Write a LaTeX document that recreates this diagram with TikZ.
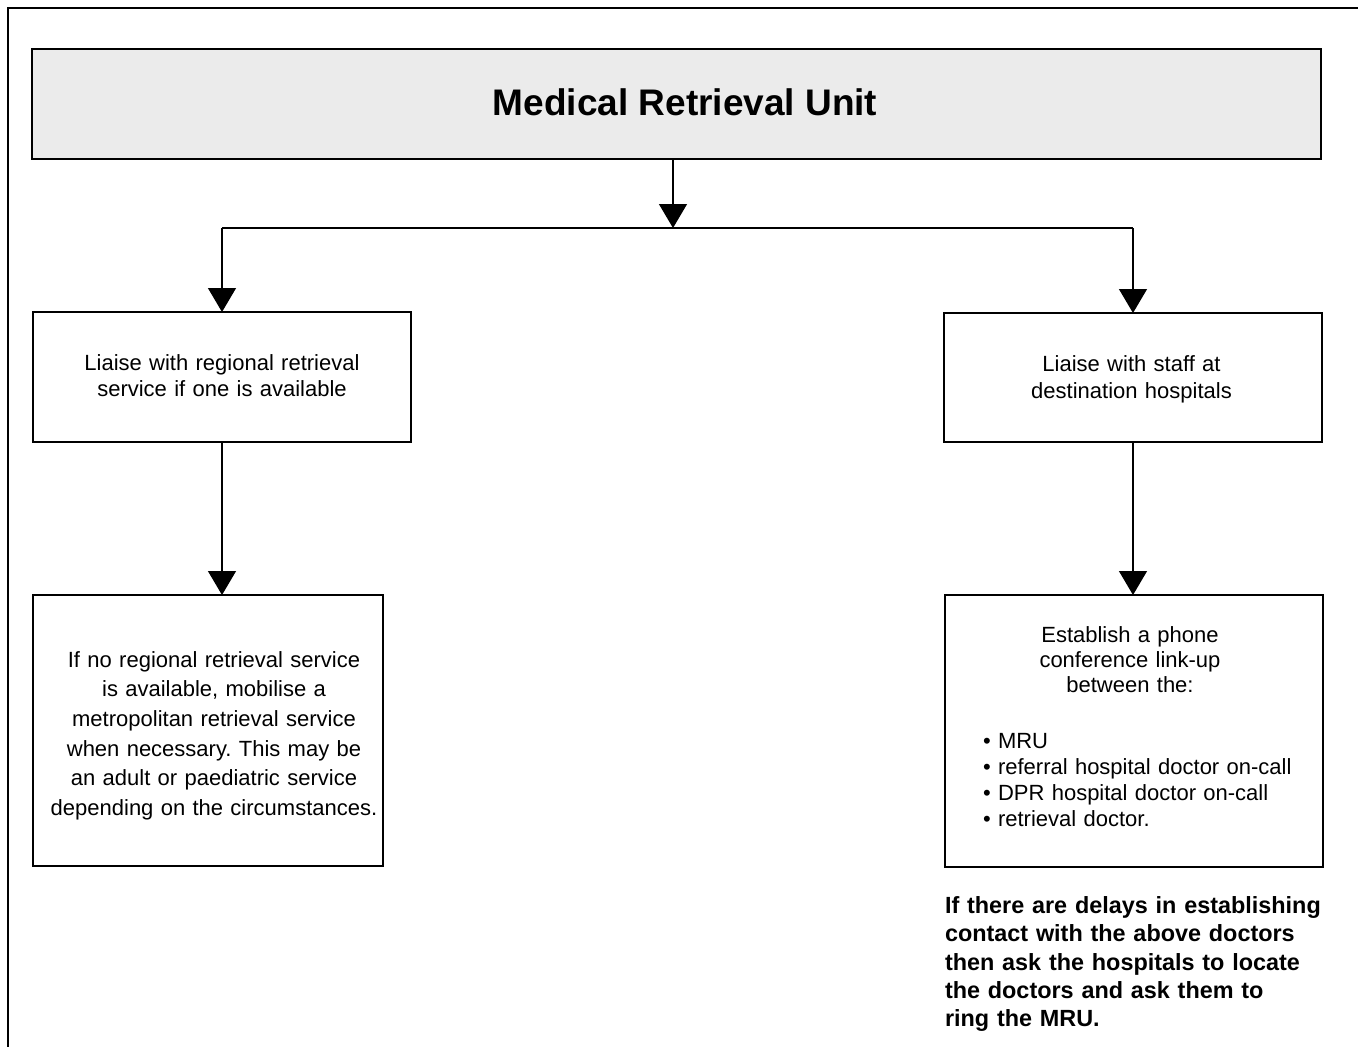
\documentclass[tikz,border=0pt]{standalone}
\usepackage{fontspec}
\setmainfont{Liberation Sans}
\usetikzlibrary{arrows.meta}
\definecolor{titlegray}{HTML}{EBEBEB}
\newcommand{\fsz}[2]{\fontsize{#1pt}{#2pt}\selectfont}
\frenchspacing
\begin{document}
\begin{tikzpicture}[x=1pt,y=-1pt,
  box/.style={draw=black, line width=1.3pt, inner sep=0pt, outer sep=0pt, anchor=north west},
  conn/.style={draw=black, line width=1.3pt},
  arr/.style={conn, -{Triangle[length=24pt,width=28pt]}},
  txt/.style={inner sep=0pt, outer sep=0pt, anchor=base, align=center},
  ltxt/.style={inner sep=0pt, outer sep=0pt, anchor=base west, align=left},
]
\useasboundingbox (0,0) rectangle (1358,1047);
\draw[line width=1.3pt] (8,1047) -- (8,8) -- (1358,8);

% boxes
\node[box, fill=titlegray, minimum width=1289pt, minimum height=110pt] (mru) at (32,49) {};
\node[box, minimum width=378pt, minimum height=130pt] (a) at (33,312) {};
\node[box, minimum width=378pt, minimum height=129pt] (b) at (944,313) {};
\node[box, minimum width=350pt, minimum height=271pt] (c) at (33,595) {};
\node[box, minimum width=378pt, minimum height=272pt] (d) at (945,595) {};

% texts
\node[txt, font=\bfseries\fsz{37}{44}] (mrut) at (685,115) {Medical Retrieval Unit};
\node[txt, text width=360pt, font=\fsz{22}{26.7}] (at) at (222,370) {Liaise with regional retrieval\\service if one is available};
\node[txt, text width=360pt, font=\fsz{22}{27}] (bt) at (1131.5,371.7) {Liaise with staff at\\destination hospitals};
\node[txt, text width=340pt, font=\fsz{22}{29.6}] (ct) at (214,667.3) {If no regional retrieval service\\is available, mobilise a\\metropolitan retrieval service\\when necessary. This may be\\an adult or paediatric service\\depending on the circumstances.};
\node[txt, text width=300pt, font=\fsz{22}{25}] (dt) at (1130,642) {Establish a phone\\conference link-up\\between the:};
\node[ltxt, text width=330pt, font=\fsz{22}{26.3}] (dl) at (983,748) {• MRU\\• referral hospital doctor on-call\\• DPR hospital doctor on-call\\• retrieval doctor.};
\node[ltxt, text width=400pt, font=\bfseries\fsz{23.4}{28.4}] (note) at (945,913.3) {If there are delays in establishing\\contact with the above doctors\\then ask the hospitals to locate\\the doctors and ask them to\\ring the MRU.};

% connectors
\coordinate (j) at (673,228);
\draw[arr] (j |- mru.south) -- (j);
\draw[conn] (a.north |- j) -- (b.north |- j);
\draw[arr] (a.north |- j) -- (a.north);
\draw[arr] (b.north |- j) -- (b.north);
\draw[arr] (a.south) -- (a.south |- c.north);
\draw[arr] (b.south) -- (b.south |- d.north);
\end{tikzpicture}
\end{document}
